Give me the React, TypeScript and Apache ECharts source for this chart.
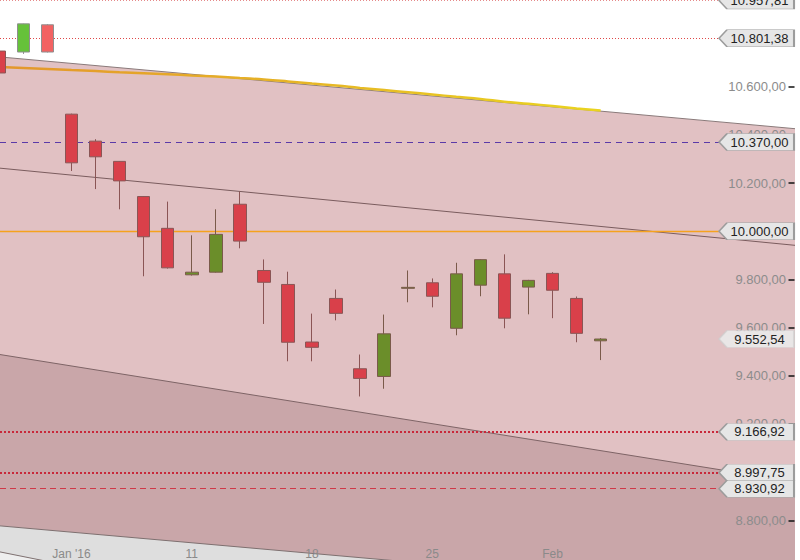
import React, { useEffect, useRef } from "react";
import * as echarts from "echarts";

// ---- data ----
const dayIndex = [-3, -2, -1, 0, 1, 2, 3, 4, 5, 6, 7, 8, 9, 10, 11, 12, 13, 14, 15, 16, 17, 18, 19, 20, 21, 22];
const dates = ["28.12.", "29.12.", "30.12.", "04.01.", "05.01.", "06.01.", "07.01.", "08.01.", "11.01.", "12.01.", "13.01.", "14.01.", "15.01.", "18.01.", "19.01.", "20.01.", "21.01.", "22.01.", "25.01.", "26.01.", "27.01.", "28.01.", "29.01.", "01.02.", "02.02.", "03.02."];
const opens = [10748, 10744, 10857, 10486, 10374, 10290, 10144, 10012, 9819, 9830, 10112, 9837, 9779, 9540, 9721, 9429, 9397, 9763, 9786, 9597, 9776, 9823, 9768, 9825, 9721, 9545];
const closes = [10657, 10861, 10744, 10284, 10309, 10209, 9977, 9848, 9830, 9987, 9959, 9788, 9539, 9518, 9659, 9389, 9574, 9767, 9730, 9823, 9882, 9639, 9796, 9755, 9576, 9552.54];
const lows = [10652, 10736, 10742, 10250, 10175, 10091, 9813, 9845, 9816, 9828, 9929, 9615, 9460, 9460, 9630, 9314, 9346, 9705, 9684, 9568, 9730, 9597, 9655, 9639, 9539, 9465];
const highs = [10750, 10862, 10860, 10488, 10382, 10291, 10146, 10123, 9983, 10091, 10165, 9883, 9832, 9658, 9758, 9488, 9654, 9837, 9804, 9869, 9884, 9904, 9798, 9830, 9729, 9556];
const movingAvg = [10682, 10678, 10674, 10669, 10665, 10660, 10656, 10652, 10647, 10642, 10636, 10630, 10622, 10613, 10605, 10595, 10586, 10577, 10568, 10558, 10549, 10538, 10529, 10520, 10510, 10501];

const xTickPos = [0, 5, 10, 15, 20];
const xTickLabels = ["Jan '16", "11", "18", "25", "Feb"];
const yTicks = [8800, 9000, 9200, 9400, 9600, 9800, 10000, 10200, 10400, 10600, 10800];

// channel lines: [start value, end value] at the axis x range edges
const channelTop = [10723.6, 10425.7];
const channelMid = [10261.8, 9941.5];
const channelLow = [9488, 8960];
const channelBase = [8776.7, 8485.5];
const channelFloor = [8668.6, 8007];

// horizontal levels with tag labels
const levelValues = [10957.81, 10801.38, 10370.0, 10000.0, 9552.54, 9166.92, 8997.75, 8930.92];

const X_MIN = -2.973;
const X_MAX = 30.08;
const Y_MIN = 8635;
const Y_MAX = 10960;

const fmt = (v: number) => {
  const fixed = v.toFixed(2);
  const [intPart, dec] = fixed.split(".");
  const withDots = intPart.replace(/\B(?=(\d{3})+(?!\d))/g, ".");
  return withDots + "," + dec;
};

const levelStyles: any[] = [
  { color: "#e58a8a", type: [1, 2], width: 1 },
  { color: "#e04848", type: [1, 2], width: 1 },
  { color: "#5a3aa8", type: [6, 5], width: 1 },
  { color: "#f5a21e", type: "solid", width: 1.3 },
  null,
  { color: "#c8283a", type: [2, 2], width: 2 },
  { color: "#c8283a", type: [2, 2], width: 2 },
  { color: "#d03848", type: [6, 4], width: 1 },
];

const FONT = "Liberation Sans, Arial, sans-serif";

export default function App() {
  const ref = useRef<HTMLDivElement>(null);
  useEffect(() => {
    if (!ref.current) return;
    const chart = echarts.init(ref.current, null, { renderer: "svg" });

    const candleData = dayIndex.map((x, i) => {
      const onWhite = i === 1 || i === 2;
      const item: any = { value: [x, opens[i], closes[i], lows[i], highs[i]], name: dates[i] };
      if (onWhite) {
        const up = closes[i] >= opens[i];
        const c = up ? "#66c23a" : "#f26262";
        item.itemStyle = {
          color: c,
          color0: c,
          borderColor: "#8f8f8f",
          borderColor0: "#8f8f8f",
        };
      }
      return item;
    });

    const lineEnd = X_MAX - 3.12;
    const tagX = X_MAX - 1.6;
    const tickStart = X_MAX - 0.27;
    const tickEnd = X_MAX - 0.02;

    const markLineData: any[] = [];
    const markPointData: any[] = [];
    // axis tick dashes drawn as short segments at the right edge
    yTicks.forEach((v) => {
      markLineData.push([
        { coord: [tickStart, v], lineStyle: { color: "#1e1e1e", type: "solid", width: 1.6 } },
        { coord: [tickEnd, v] },
      ]);
    });
    levelValues.forEach((v, i) => {
      const st = levelStyles[i];
      if (st) {
        markLineData.push([
          { coord: [X_MIN, v], lineStyle: st },
          { coord: [lineEnd, v] },
        ]);
      }
      const isLast = i === 4;
      markPointData.push({
        coord: [tagX, v],
        value: v,
        itemStyle: isLast
          ? { color: "rgba(234,234,234,0.9)", borderColor: "rgba(205,205,205,0.7)", borderWidth: 1 }
          : { color: "#e6e6e6", borderColor: "#9c9c9c", borderWidth: 1 },
      });
    });

    const edgeLine = (vals: number[], name: string, lineColor: string, fill: string | null, z: number) => ({
      type: "line",
      name,
      data: [
        [X_MIN, vals[0]],
        [X_MAX, vals[1]],
      ],
      symbol: "none",
      silent: true,
      z,
      lineStyle: { color: lineColor, width: 1 },
      areaStyle: fill ? { color: fill, origin: "start", opacity: 1 } : undefined,
    });

    chart.setOption({
      animation: false,
      backgroundColor: "#ffffff",
      grid: { left: 0, right: 5, top: 0, bottom: 0, containLabel: false },
      xAxis: {
        type: "value",
        min: X_MIN,
        max: X_MAX,
        splitLine: { show: false },
        axisLine: { show: false, onZero: false },
        axisTick: { show: false },
        z: 4,
        axisLabel: {
          inside: true,
          margin: 0,
          customValues: xTickPos,
          formatter: (v: number) => {
            const k = xTickPos.indexOf(Math.round(v));
            return k >= 0 ? xTickLabels[k] : "";
          },
          color: "#8a8a8a",
          fontSize: 12,
          fontFamily: FONT,
        },
      },
      yAxis: {
        type: "value",
        position: "right",
        min: Y_MIN,
        max: Y_MAX,
        scale: true,
        splitLine: { show: false },
        axisLine: { show: false, onZero: false },
        axisTick: { show: false },
        z: 4,
        axisLabel: {
          inside: true,
          margin: 9,
          customValues: yTicks,
          formatter: (v: number) => fmt(v),
          color: "#8c8c8c",
          fontSize: 13,
          fontFamily: FONT,
        },
      },
      series: [
        edgeLine(channelTop, "top", "#8a7a7a", "#e1c1c3", 1),
        edgeLine(channelLow, "low", "#7e6466", "#c9a6a9", 1),
        edgeLine(channelBase, "base", "#7e7070", "#dedede", 1),
        edgeLine(channelFloor, "floor", "#7e7070", "#eeeeee", 1),
        edgeLine(channelMid, "mid", "#7a5c5e", null, 2),
        {
          type: "line",
          name: "MA",
          data: dayIndex.map((x, i) => [x, movingAvg[i]]),
          symbol: "none",
          smooth: true,
          z: 3,
          lineStyle: {
            width: 2.5,
            color: new echarts.graphic.LinearGradient(0, 0, 1, 0, [
              { offset: 0, color: "#e3962c" },
              { offset: 1, color: "#ead420" },
            ]),
          },
        },
        {
          type: "candlestick",
          name: "DAX",
          data: candleData,
          barWidth: 13,
          z: 3,
          itemStyle: {
            color: "#6b8e2a",
            color0: "#d9404a",
            borderColor: "#7a5a4a",
            borderColor0: "#8a5555",
            borderWidth: 1,
          },
          markLine: {
            silent: true,
            symbol: ["none", "none"],
            label: { show: false },
            z: 3,
            data: markLineData,
          },
          markPoint: {
            silent: true,
            z: 6,
            symbol: "path://M0,8.5 L8,0 L75,0 L75,17 L8,17 Z",
            symbolSize: [75, 17],
            label: {
              show: true,
              position: "inside",
              offset: [3, 0],
              color: "#222222",
              fontSize: 13,
              fontFamily: FONT,
              formatter: (p: any) => fmt(p.value),
            },
            data: markPointData,
          },
        },
      ],
    });
    return () => chart.dispose();
  }, []);
  return (
    <div
      ref={ref}
      style={{ position: "absolute", left: 0, top: 0, width: 800, height: 560 }}
    />
  );
}
